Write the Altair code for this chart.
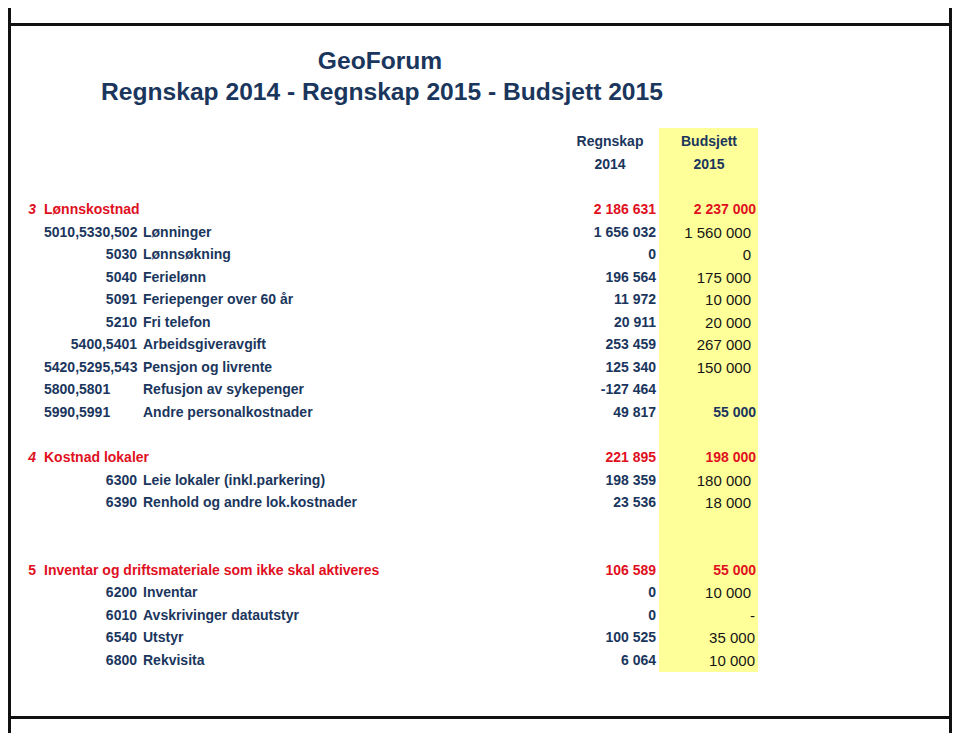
import altair as alt
import pandas as pd

# ---------------- data (as printed in the sheet) ----------------
TITLE_LINES = ["GeoForum", "Regnskap 2014 - Regnskap 2015 - Budsjett 2015"]
HEAD_TOP = ["Regnskap", "Budsjett"]
HEAD_YEAR = ["2014", "2015"]

SEC_NUM = ["3", "4", "5"]
SEC_LABEL = ["Lønnskostnad", "Kostnad lokaler",
             "Inventar og driftsmateriale som ikke skal aktiveres"]
SEC_REGN = ["2 186 631", "221 895", "106 589"]
SEC_BUD = ["2 237 000", "198 000", "55 000"]
SEC_ROW = [0, 11, 16]

CODES = ["5010,5330,5020", "5030", "5040", "5091", "5210", "5400,5401",
         "5420,5295,5430", "5800,5801", "5990,5991", "6300", "6390",
         "6200", "6010", "6540", "6800"]
DESCS = ["Lønninger", "Lønnsøkning", "Ferielønn", "Feriepenger over 60 år",
         "Fri telefon", "Arbeidsgiveravgift", "Pensjon og livrente",
         "Refusjon av sykepenger", "Andre personalkostnader",
         "Leie lokaler (inkl.parkering)", "Renhold og andre lok.kostnader",
         "Inventar", "Avskrivinger datautstyr", "Utstyr", "Rekvisita"]
REGN = ["1 656 032", "0", "196 564", "11 972", "20 911", "253 459",
        "125 340", "-127 464", "49 817", "198 359", "23 536",
        "0", "0", "100 525", "6 064"]
BUD = ["1 560 000", "0", "175 000", "10 000", "20 000", "267 000",
       "150 000", "", "55 000", "180 000", "18 000",
       "10 000", "-", "35 000", "10 000"]
DET_ROW = [1, 2, 3, 4, 5, 6, 7, 8, 9, 12, 13, 17, 18, 19, 20]

# ---------------- layout / style ----------------
W, H = 944, 725
NAVY = "#1b365d"
RED = "#e0101e"
BLACK = "#151515"
YELLOW = "#ffff99"
FONT = "Liberation Sans"

ROW0_Y = 202.0   # plot y of row 0
ROW_H = 22.55
Y_DOMAIN = [-ROW0_Y / ROW_H, (H - ROW0_Y) / ROW_H]

COL_X = {
    "num": 28, "label": 36, "code": 129, "desc": 135,
    "regn": 648, "bud": 743, "bud_b": 748, "bud_r": 747,
    "hdr_r": 602, "hdr_b": 701, "title": 372,
    "yel_l": 651, "yel_r": 750,
}
LEFT_CODES = {0, 6, 7, 8}      # codes written from the left edge
CLIPPED_CODES = {0, 6}         # codes cut off by the next cell
BOLD_BUD = {8}                 # bold budget value in detail rows
SHIFT_BUD = {12, 13, 14}       # budget values set a little further right

xs = alt.Scale(domain=[0, W], nice=False, zero=False)
ys = alt.Scale(domain=Y_DOMAIN, reverse=True, nice=False, zero=False)


def row_of(y_plot):
    return (y_plot - ROW0_Y) / ROW_H


def text_layer(records, **kw):
    df = pd.DataFrame(records, columns=["x", "row", "text"])
    base = dict(baseline="middle", font=FONT, fontSize=14, fontWeight="bold")
    base.update(kw)
    return alt.Chart(df).mark_text(**base).encode(
        x=alt.X("x:Q", scale=xs, axis=None),
        y=alt.Y("row:Q", scale=ys, axis=None),
        text="text:N",
    )


layers = []

# yellow budget column
yel = pd.DataFrame([{"x": COL_X["yel_l"], "x2": COL_X["yel_r"],
                     "row": row_of(120), "row2": row_of(664)}])
layers.append(alt.Chart(yel).mark_rect(color=YELLOW).encode(
    x=alt.X("x:Q", scale=xs, axis=None), x2="x2:Q",
    y=alt.Y("row:Q", scale=ys, axis=None), y2="row2:Q"))

# frame lines
hl = pd.DataFrame({"row": [row_of(16.5), row_of(709.5)]})
layers.append(alt.Chart(hl).mark_rule(color="#111", strokeWidth=3).encode(
    y=alt.Y("row:Q", scale=ys, axis=None), x=alt.value(0), x2=alt.value(W)))
vl = pd.DataFrame({"x": [1.5, W - 1.5], "row": [Y_DOMAIN[0]] * 2,
                   "row2": [Y_DOMAIN[1]] * 2})
layers.append(alt.Chart(vl).mark_rule(color="#111", strokeWidth=3).encode(
    x=alt.X("x:Q", scale=xs, axis=None),
    y=alt.Y("row:Q", scale=ys, axis=None), y2="row2:Q"))

# titles
layers.append(text_layer(
    [(COL_X["title"], row_of(54), TITLE_LINES[0]),
     (COL_X["title"] + 2, row_of(85), TITLE_LINES[1])],
    align="center", fontSize=24.6, color=NAVY))

# headers
hdr = []
for i, key in enumerate(["hdr_r", "hdr_b"]):
    hdr.append((COL_X[key], -3, HEAD_TOP[i]))
    hdr.append((COL_X[key], -2, HEAD_YEAR[i]))
layers.append(text_layer(hdr, align="center", color=NAVY))

# section rows
ital = [(COL_X["num"], SEC_ROW[i], SEC_NUM[i]) for i in range(2)]
layers.append(text_layer(ital, align="right", color=RED, fontStyle="italic"))
layers.append(text_layer([(COL_X["num"], SEC_ROW[2], SEC_NUM[2])],
                         align="right", color=RED))
layers.append(text_layer([(COL_X["label"], SEC_ROW[i], SEC_LABEL[i])
                          for i in range(3)], align="left", color=RED))
layers.append(text_layer([(COL_X["regn"], SEC_ROW[i], SEC_REGN[i])
                          for i in range(3)], align="right", color=RED))
layers.append(text_layer([(COL_X["bud_b"], SEC_ROW[i], SEC_BUD[i])
                          for i in range(3)], align="right", color=RED))

# detail rows: codes
n = len(CODES)
right_codes = [(COL_X["code"], DET_ROW[i], CODES[i]) for i in range(n)
               if i not in LEFT_CODES]
left_codes = [(COL_X["label"], DET_ROW[i], CODES[i]) for i in range(n)
              if i in LEFT_CODES and i not in CLIPPED_CODES]
clip_codes = [(COL_X["label"], DET_ROW[i], CODES[i]) for i in range(n)
              if i in CLIPPED_CODES]
layers.append(text_layer(right_codes, align="right", color=NAVY))
layers.append(text_layer(left_codes, align="left", color=NAVY))
layers.append(text_layer(clip_codes, align="left", color=NAVY,
                         limit=96, ellipsis="\u200b"))

# descriptions and Regnskap values
layers.append(text_layer([(COL_X["desc"], DET_ROW[i], DESCS[i]) for i in range(n)],
                         align="left", color=NAVY))
layers.append(text_layer([(COL_X["regn"], DET_ROW[i], REGN[i]) for i in range(n)],
                         align="right", color=NAVY))

# budget values
bud_plain = [(COL_X["bud_r"] if i in SHIFT_BUD else COL_X["bud"], DET_ROW[i], BUD[i])
             for i in range(n) if i not in BOLD_BUD and BUD[i] != ""]
bud_bold = [(COL_X["bud_b"], DET_ROW[i], BUD[i]) for i in range(n) if i in BOLD_BUD]
layers.append(text_layer(bud_plain, align="right", color=BLACK,
                         fontSize=15, fontWeight="normal"))
layers.append(text_layer(bud_bold, align="right", color=NAVY))

chart = alt.layer(*layers).properties(
    width=W, height=H,
    autosize=alt.AutoSizeParams(type="none"),
    padding=0, background="white",
).configure_view(stroke=None)

chart.save("out.html", embed_options={"renderer": "svg", "actions": False})
